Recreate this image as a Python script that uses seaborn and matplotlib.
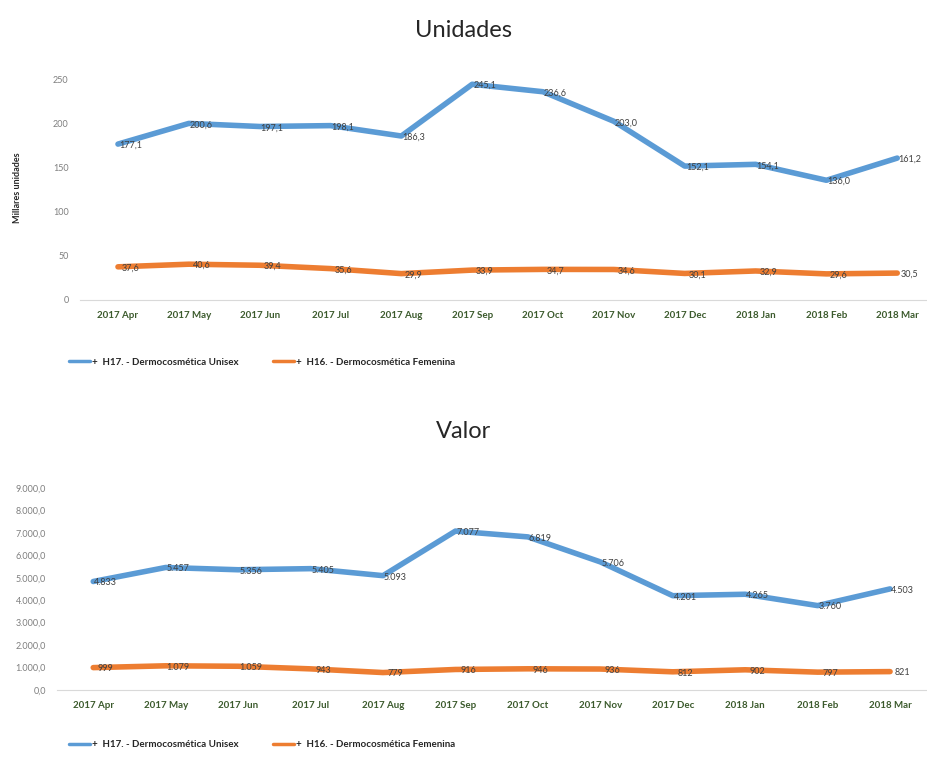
import pandas as pd
import matplotlib.pyplot as plt
import seaborn as sns
from matplotlib.lines import Line2D

# Data
months = ["2017 Apr", "2017 May", "2017 Jun", "2017 Jul", "2017 Aug", "2017 Sep",
          "2017 Oct", "2017 Nov", "2017 Dec", "2018 Jan", "2018 Feb", "2018 Mar"]
series_names = ["H17. - Dermocosmética Unisex", "H16. - Dermocosmética Femenina"]
units_unisex = [177.1, 200.6, 197.1, 198.1, 186.3, 245.1, 236.6, 203.0, 152.1, 154.1, 136.0, 161.2]
units_femenina = [37.6, 40.6, 39.4, 35.6, 29.9, 33.9, 34.7, 34.6, 30.1, 32.9, 29.6, 30.5]
value_unisex = [4833, 5457, 5356, 5405, 5093, 7077, 6819, 5706, 4201, 4265, 3760, 4503]
value_femenina = [999, 1079, 1059, 943, 779, 916, 946, 936, 812, 902, 797, 821]

colors = {series_names[0]: "#5B9BD5", series_names[1]: "#ED7D31"}
tick_green = "#3b5a2c"
label_grey = "#404040"

sns.set_style("white")
plt.rcParams["font.family"] = ["Lato", "DejaVu Sans"]


def long_frame(a, b):
    rows = []
    for i, m in enumerate(months):
        rows.append({"pos": i, "month": m, "serie": series_names[0], "val": a[i]})
        rows.append({"pos": i, "month": m, "serie": series_names[1], "val": b[i]})
    return pd.DataFrame(rows)


def fmt_es(v, dec):
    s = f"{v:,.{dec}f}"
    return s.replace(",", "X").replace(".", ",").replace("X", ".")


def draw_panel(ax, df, ylim, yticks, ytick_fmt, label_fmt):
    sns.lineplot(data=df, x="pos", y="val", hue="serie", palette=colors,
                 linewidth=4, ax=ax, legend=False, solid_capstyle="round",
                 solid_joinstyle="round")
    for _, r in df.iterrows():
        ax.annotate(label_fmt(r["val"]), (r["pos"], r["val"]), xytext=(9, -1),
                    textcoords="offset points", ha="center", va="center",
                    fontsize=6.5, color=label_grey)
    ax.set_ylim(*ylim)
    ax.set_yticks(yticks)
    ax.set_yticklabels([ytick_fmt(t) for t in yticks], fontsize=6.5, color="#7f7f7f")
    ax.set_xticks(range(len(months)))
    ax.set_xticklabels(months, fontsize=7, fontweight="bold", color=tick_green)
    ax.tick_params(length=0, pad=8)
    ax.set_xlabel("")
    for s in ["top", "right", "left"]:
        ax.spines[s].set_visible(False)
    ax.spines["bottom"].set_color("#d9d9d9")


fig = plt.figure(figsize=(9.27, 7.71), dpi=100)

# Unidades
ax1 = fig.add_axes([0.086, 0.611, 0.914, 0.291])
draw_panel(ax1, long_frame(units_unisex, units_femenina), (0, 255),
           [0, 50, 100, 150, 200, 250], lambda t: f"{int(t)}",
           lambda v: fmt_es(v, 1))
ax1.set_xlim(-0.54, 11.42)
ax1.set_ylabel("Millares unidades", fontsize=6.5, fontweight="bold", labelpad=22)
fig.text(0.5, 0.96, "Unidades", ha="center", va="center", fontsize=17)

# Valor
ax2 = fig.add_axes([0.0615, 0.105, 0.9385, 0.268])
draw_panel(ax2, long_frame(value_unisex, value_femenina), (0, 9200),
           list(range(0, 9001, 1000)), lambda t: fmt_es(t, 1),
           lambda v: fmt_es(v, 0))
ax2.set_xlim(-0.5, 11.51)
ax2.set_ylabel("")
fig.text(0.5, 0.44, "Valor", ha="center", va="center", fontsize=17)

handles = [Line2D([0], [0], color=colors[n], lw=2.5) for n in series_names]
labels = ["+  " + n for n in series_names]
for y in [0.53, 0.034]:
    fig.legend(handles, labels, loc="center left", bbox_to_anchor=(0.065, y),
               ncol=2, frameon=False, handlelength=2.2, handletextpad=0.2,
               columnspacing=3.5, prop={"size": 7, "weight": "bold"})

fig.savefig("out.png", dpi=100)
